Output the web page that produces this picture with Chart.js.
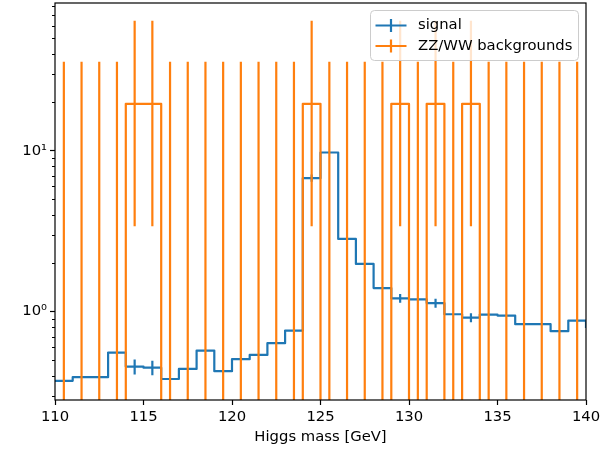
<!DOCTYPE html>
<html>
<head>
<meta charset="utf-8">
<script src="https://cdn.jsdelivr.net/npm/chart.js@4.4.0/dist/chart.umd.min.js"></script>
<style>
  body { margin: 0; background: #fff; }
</style>
</head>
<body>
<canvas id="higgsChart" width="611" height="449"></canvas>
<script>
// left edge of each 1 GeV bin (last one sits just past the x limit)
var massBins = [110, 111, 112, 113, 114, 115, 116, 117, 118, 119, 120, 121, 122, 123, 124, 125,
                126, 127, 128, 129, 130, 131, 132, 133, 134, 135, 136, 137, 138, 139, 140];

var signalValues = [0.371, 0.391, 0.391, 0.556, 0.455, 0.448, 0.381, 0.440, 0.572, 0.426, 0.506,
                    0.538, 0.636, 0.762, 6.76, 9.76, 2.83, 1.98, 1.40, 1.21, 1.19, 1.13, 0.963,
                    0.918, 0.958, 0.944, 0.835, 0.835, 0.755, 0.879, 0.79];
var signalErrors = [0, 0, 0, 0, 0.048, 0.046, 0, 0, 0, 0, 0, 0, 0, 0, 0.35, 0, 0, 0, 0, 0.075,
                    0, 0.072, 0, 0.06, 0, 0, 0, 0, 0, 0, 0];

var backgroundValues = [0, 0, 0, 0, 19.6, 19.6, 0, 0, 0, 0, 0, 0, 0, 0, 19.6, 0, 0, 0, 0, 19.6,
                        0, 19.6, 0, 19.6, 0, 0, 0, 0, 0, 0, 0];
var backgroundErrLow = [35.8, 35.8, 35.8, 35.8, 16.2, 16.2, 35.8, 35.8, 35.8, 35.8, 35.8, 35.8,
                        35.8, 35.8, 16.2, 35.8, 35.8, 35.8, 35.8, 16.2, 35.8, 16.2, 35.8, 16.2,
                        35.8, 35.8, 35.8, 35.8, 35.8, 35.8, 35.8];
var backgroundErrHigh = [35.8, 35.8, 35.8, 35.8, 44.8, 44.8, 35.8, 35.8, 35.8, 35.8, 35.8, 35.8,
                         35.8, 35.8, 44.8, 35.8, 35.8, 35.8, 35.8, 44.8, 35.8, 44.8, 35.8, 44.8,
                         35.8, 35.8, 35.8, 35.8, 35.8, 35.8, 35.8];

var xTicks = [110, 115, 120, 125, 130, 135, 140];
var yMajorTicks = [1, 10];
var yMajorLabels = ['10⁰', '10¹'];
var yMinorTicks = [0.3, 0.4, 0.5, 0.6, 0.7, 0.8, 0.9, 2, 3, 4, 5, 6, 7, 8, 9, 20, 30, 40, 50, 60, 70, 80];

var legendNames = ['signal', 'ZZ/WW backgrounds'];
var blue = '#1f77b4';
var orange = '#ff7f0e';
var FLOOR = 1e-3; // stands in for zero on the log axis
var FONT = 'DejaVu Sans';

function stepPoints(values) {
    var pts = [];
    for (var i = 0; i < massBins.length; i++) {
        pts.push({x: massBins[i], y: Math.max(values[i], FLOOR)});
    }
    var last = massBins.length - 1;
    pts.push({x: massBins[last] + 1, y: Math.max(values[last], FLOOR)});
    return pts;
}

function errorPoints(values, lows, highs) {
    var pts = [];
    for (var i = 0; i < massBins.length; i++) {
        if (lows[i] === 0 && highs[i] === 0) continue;
        var x = massBins[i] + 0.5;
        pts.push({x: x, y: Math.max(values[i] - lows[i], FLOOR)});
        pts.push({x: x, y: values[i] + highs[i]});
        pts.push({x: x, y: null});
    }
    return pts;
}

function lineSet(label, data, color, stepped) {
    return {
        label: label,
        data: data,
        borderColor: color,
        borderWidth: 2.2,
        borderJoinStyle: 'round',
        pointRadius: 0,
        stepped: stepped,
        tension: 0,
        spanGaps: false,
        fill: false
    };
}

var extras = {
    id: 'extras',
    afterDatasetsDraw: function (chart) {
        var ctx = chart.ctx;
        var area = chart.chartArea;
        var y = chart.scales.y;
        ctx.save();
        ctx.strokeStyle = '#000';
        ctx.lineWidth = 1;
        ctx.beginPath();
        yMinorTicks.forEach(function (v) {
            var py = Math.round(y.getPixelForValue(v)) + 0.5;
            ctx.moveTo(area.left - 3, py);
            ctx.lineTo(area.left, py);
        });
        ctx.stroke();
        ctx.lineWidth = 1.2;
        ctx.strokeRect(area.left, area.top, area.right - area.left, area.bottom - area.top);
        ctx.restore();
    },
    afterDraw: function (chart) {
        var ctx = chart.ctx;
        var area = chart.chartArea;
        var w = 208, h = 50, r = 4;
        var left = area.right - 7.5 - w, top = area.top + 7.5;
        ctx.save();
        ctx.beginPath();
        ctx.roundRect(left, top, w, h, r);
        ctx.fillStyle = 'rgba(255,255,255,0.8)';
        ctx.fill();
        ctx.strokeStyle = '#cccccc';
        ctx.lineWidth = 1;
        ctx.stroke();
        var colors = [blue, orange];
        ctx.font = '14.8px "' + FONT + '"';
        ctx.textBaseline = 'middle';
        ctx.fillStyle = '#000';
        for (var i = 0; i < legendNames.length; i++) {
            var cy = top + 15 + i * 20.5;
            ctx.strokeStyle = colors[i];
            ctx.lineWidth = 2.2;
            ctx.beginPath();
            ctx.moveTo(left + 5, cy);
            ctx.lineTo(left + 36, cy);
            ctx.moveTo(left + 20.5, cy - 6.5);
            ctx.lineTo(left + 20.5, cy + 6.5);
            ctx.stroke();
            ctx.fillText(legendNames[i], left + 47.5, cy);
        }
        ctx.restore();
    }
};

var config = {
    type: 'line',
    data: {
        datasets: [
            lineSet('ZZ/WW backgrounds', stepPoints(backgroundValues), orange, 'before'),
            lineSet('bg errors', errorPoints(backgroundValues, backgroundErrLow, backgroundErrHigh), orange, false),
            lineSet('signal', stepPoints(signalValues), blue, 'before'),
            lineSet('signal errors', errorPoints(signalValues, signalErrors, signalErrors), blue, false)
        ]
    },
    options: {
        responsive: false,
        animation: false,
        layout: { padding: { top: 3, right: 25, left: 0, bottom: 0 } },
        plugins: {
            legend: { display: false },
            tooltip: { enabled: false }
        },
        scales: {
            x: {
                type: 'linear',
                min: 110,
                max: 140,
                afterBuildTicks: function (scale) {
                    scale.ticks = xTicks.map(function (v) { return {value: v}; });
                },
                afterFit: function (scale) {
                    scale.height = 49;
                    scale.paddingLeft = 0;
                    scale.paddingRight = 0;
                },
                grid: { drawOnChartArea: false, tickLength: 5, tickColor: '#000', tickWidth: 1.2 },
                border: { display: false },
                ticks: { color: '#000', padding: 3, font: { family: FONT, size: 14.8 }, maxRotation: 0 },
                title: {
                    display: true,
                    text: 'Higgs mass [GeV]',
                    color: '#000',
                    font: { family: FONT, size: 14.8 },
                    padding: { top: 0, bottom: 3 }
                }
            },
            y: {
                type: 'logarithmic',
                min: 0.282,
                max: 83,
                afterBuildTicks: function (scale) {
                    scale.ticks = yMajorTicks.map(function (v) { return {value: v}; });
                },
                afterFit: function (scale) {
                    scale.width = 55;
                    scale.paddingTop = 0;
                    scale.paddingBottom = 0;
                },
                grid: { drawOnChartArea: false, tickLength: 5, tickColor: '#000', tickWidth: 1.2 },
                border: { display: false },
                ticks: {
                    color: '#000',
                    padding: 3,
                    autoSkip: false,
                    font: { family: FONT, size: 14.8 },
                    callback: function (value) {
                        var i = yMajorTicks.indexOf(value);
                        return i >= 0 ? yMajorLabels[i] : '';
                    }
                }
            }
        }
    },
    plugins: [extras]
};

var higgsChart = new Chart(document.getElementById('higgsChart'), config);
</script>
</body>
</html>
